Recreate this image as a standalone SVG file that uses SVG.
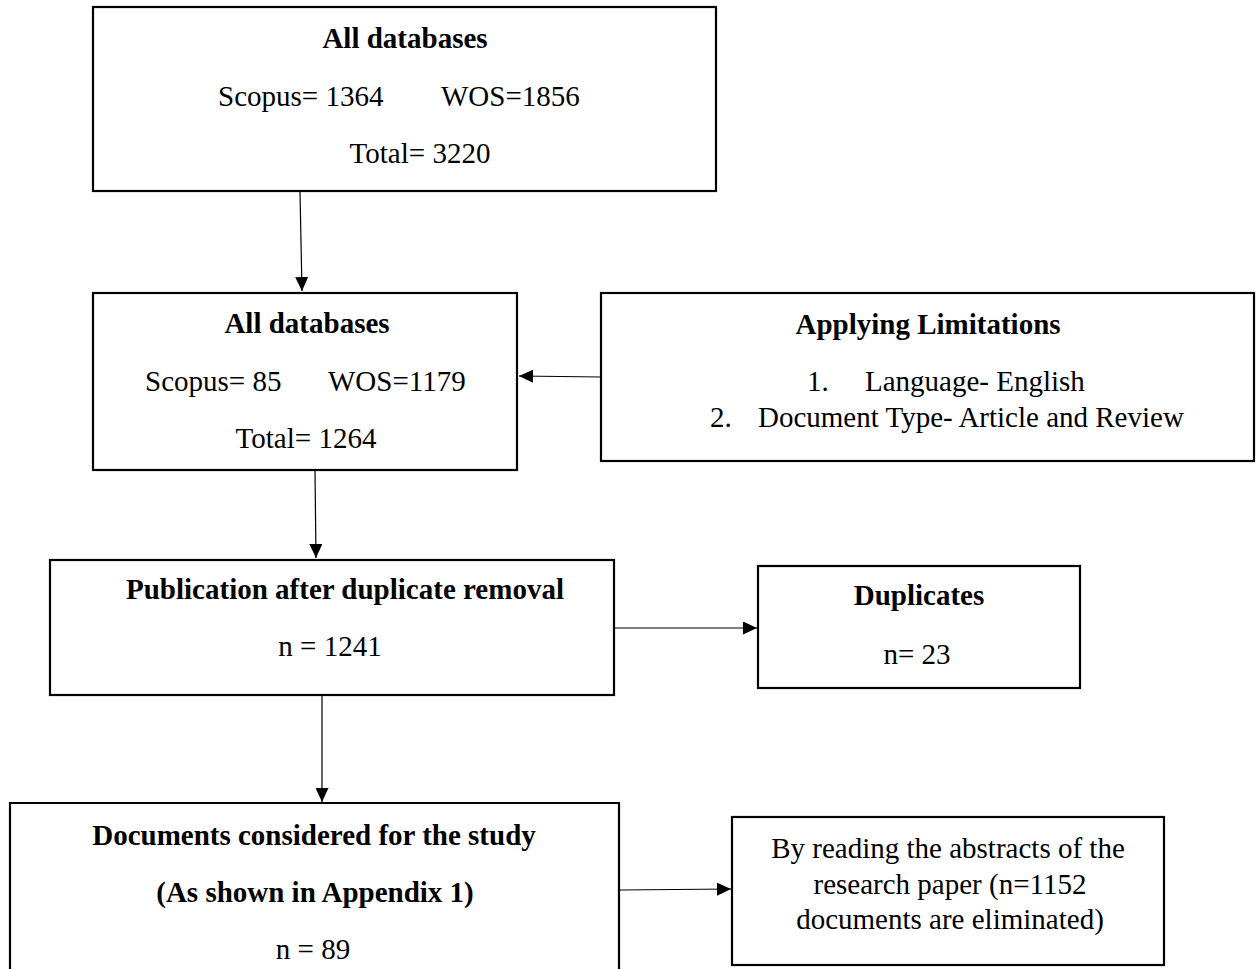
<svg xmlns="http://www.w3.org/2000/svg" width="1258" height="969" viewBox="0 0 1258 969">
<defs>
<marker id="ah" markerWidth="14" markerHeight="13" refX="14" refY="6.5" orient="auto" markerUnits="userSpaceOnUse">
<path d="M0,0 L14,6.5 L0,13 Z" fill="#000"/>
</marker>
<style>
.box{fill:#fff;stroke:#000;stroke-width:2.2}
text{font-family:"Liberation Serif","Times New Roman",serif;font-size:29px;fill:#000}
.b{font-weight:bold}
.c{text-anchor:middle}
.conn{stroke:#000;stroke-width:1.2;fill:none}
</style>
</defs>
<rect width="1258" height="969" fill="#fff"/>
<g id="connectors">
<line class="conn" x1="300" y1="192" x2="302" y2="291" marker-end="url(#ah)"/>
<line class="conn" x1="601" y1="377" x2="519" y2="376" marker-end="url(#ah)"/>
<line class="conn" x1="315" y1="471" x2="316" y2="558" marker-end="url(#ah)"/>
<line class="conn" x1="615" y1="628" x2="757" y2="628" marker-end="url(#ah)"/>
<line class="conn" x1="322" y1="696" x2="322" y2="802" marker-end="url(#ah)"/>
<line class="conn" x1="620" y1="890" x2="731" y2="889" marker-end="url(#ah)"/>
</g>
<g id="n1">
<rect class="box" x="93" y="7" width="623" height="184"/>
<text class="b c" x="405" y="48">All databases</text>
<text x="218" y="106">Scopus= 1364</text>
<text x="441" y="106">WOS=1856</text>
<text class="c" x="420" y="163">Total= 3220</text>
</g>
<g id="n2">
<rect class="box" x="93" y="293" width="424" height="177"/>
<text class="b c" x="307" y="333">All databases</text>
<text x="145" y="391">Scopus= 85</text>
<text x="328" y="391">WOS=1179</text>
<text class="c" x="306" y="448">Total= 1264</text>
</g>
<g id="n3">
<rect class="box" x="601" y="293" width="653" height="168"/>
<text class="b c" x="928" y="334">Applying Limitations</text>
<text x="807" y="391">1.</text>
<text x="865" y="391">Language- English</text>
<text x="710" y="427">2.</text>
<text x="758" y="427">Document Type- Article and Review</text>
</g>
<g id="n4">
<rect class="box" x="50" y="560" width="564" height="135"/>
<text class="b c" x="345" y="599">Publication after duplicate removal</text>
<text class="c" x="330" y="656">n = 1241</text>
</g>
<g id="n5">
<rect class="box" x="758" y="566" width="322" height="122"/>
<text class="b c" x="919" y="605">Duplicates</text>
<text class="c" x="917" y="664">n= 23</text>
</g>
<g id="n6">
<path class="box" d="M10,975 L10,803 L619,803 L619,975"/>
<text class="b c" x="314" y="845">Documents considered for the study</text>
<text class="b c" x="315" y="902">(As shown in Appendix 1)</text>
<text class="c" x="313" y="959">n = 89</text>
</g>
<g id="n7">
<rect class="box" x="732" y="817" width="432" height="148"/>
<text class="c" x="948" y="858">By reading the abstracts of the</text>
<text class="c" x="950" y="894">research paper (n=1152</text>
<text class="c" x="950" y="929">documents are eliminated)</text>
</g>
</svg>
